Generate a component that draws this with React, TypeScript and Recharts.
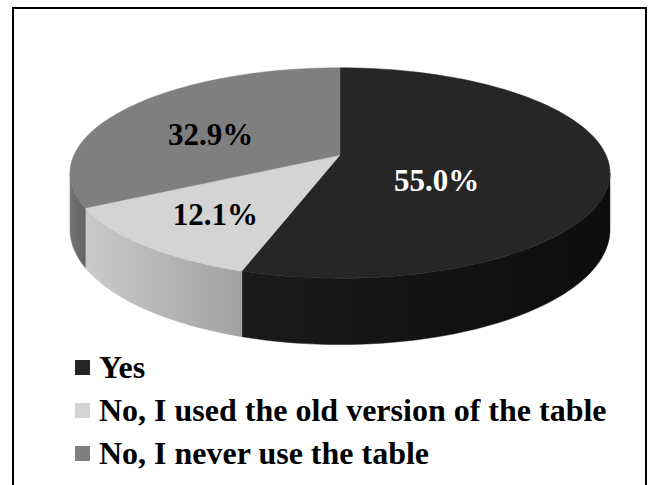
/* 3D-looking pie: answers to "Did you use the table?" */
import { PieChart, Pie, Cell, Legend } from 'recharts';

const answers = ['Yes', 'No, I used the old version of the table', 'No, I never use the table'];
const shares = [55.0, 12.1, 32.9];
const topColors = ['#262626', '#d4d4d4', '#7f7f7f'];
const wallColors = [['#1a1a1a', '#0d0d0d'], ['#cacaca', '#a2a2a2'], ['#747474', '#636363']];

const data = answers.map((name, i) => ({ name, value: shares[i], idx: i }));

// projection of the tilted disc
const SQUASH = 0.384;   // vertical / horizontal radius
const PERSP = 0.171;    // front bigger than back
const DEPTH = 55;       // thickness of the pie
const FONT = '"Liberation Serif", "Times New Roman", serif';

function proj(theta: number, cx: number, cy: number, R: number, r = 1) {
  const t = (theta * Math.PI) / 180;
  const u = r * Math.sin(t);
  const v = r * Math.cos(t);
  const s = 1 / (1 + PERSP * v);
  return { x: cx + R * u * s, y: cy - R * SQUASH * v * s, s };
}

function rimPoints(t1: number, t2: number, cx: number, cy: number, R: number) {
  const n = Math.max(2, Math.ceil(Math.abs(t2 - t1) / 2));
  const pts = [];
  for (let i = 0; i <= n; i++) pts.push(proj(t1 + ((t2 - t1) * i) / n, cx, cy, R));
  return pts;
}

function topFace(p: any) {
  const t1 = 90 - p.startAngle;
  const t2 = 90 - p.endAngle;
  return [{ x: p.cx, y: p.cy }, ...rimPoints(t1, t2, p.cx, p.cy, p.outerRadius)];
}

const toPath = (pts: { x: number; y: number }[]) =>
  'M' + pts.map((q) => `${q.x.toFixed(2)},${q.y.toFixed(2)}`).join('L') + 'Z';

function idxOf(p: any) {
  return p.payload?.idx ?? p.idx ?? p.index ?? 0;
}

function WallShape(p: any) {
  const edge = (Math.acos(-PERSP) * 180) / Math.PI;
  const a = Math.min(90 - p.startAngle, 90 - p.endAngle);
  const b = Math.max(90 - p.startAngle, 90 - p.endAngle);
  const lo = Math.max(a, edge);
  const hi = Math.min(b, 360 - edge);
  if (hi <= lo) return <g />;
  const top = rimPoints(lo, hi, p.cx, p.cy, p.outerRadius);
  const bottom = top.map((q) => ({ x: q.x, y: q.y + DEPTH * q.s })).reverse();
  const i = idxOf(p);
  const id = `wall-grad-${i}`;
  return (
    <g>
      <defs>
        <linearGradient id={id} x1="0" y1="0" x2="1" y2="0">
          <stop offset="0%" stopColor={wallColors[i][0]} />
          <stop offset="100%" stopColor={wallColors[i][1]} />
        </linearGradient>
      </defs>
      <path d={toPath([...top, ...bottom])} fill={`url(#${id})`} stroke={`url(#${id})`} strokeWidth={0.5} />
    </g>
  );
}

function TopShape(p: any) {
  return <path d={toPath(topFace(p))} fill={p.fill} stroke={p.fill} strokeWidth={0.5} />;
}

function PctLabel(p: any) {
  // area centroid of the projected top face
  const pts = topFace(p);
  let A = 0, gx = 0, gy = 0;
  for (let k = 0; k < pts.length; k++) {
    const q0 = pts[k], q1 = pts[(k + 1) % pts.length];
    const c = q0.x * q1.y - q1.x * q0.y;
    A += c; gx += (q0.x + q1.x) * c; gy += (q0.y + q1.y) * c;
  }
  A /= 2;
  const x = gx / (6 * A);
  const y = gy / (6 * A);
  const i = idxOf(p);
  return (
    <text x={x} y={y} textAnchor="middle" dominantBaseline="central"
      fontFamily={FONT} fontWeight={700} fontSize={31} fill={i === 0 ? '#fff' : '#000'}>
      {`${Number(p.value).toFixed(1)}%`}
    </text>
  );
}

function LegendBox() {
  return (
    <div style={{ fontFamily: FONT, fontWeight: 700, fontSize: 32, color: '#000' }}>
      {answers.map((name, i) => (
        <div key={name} style={{ display: 'flex', alignItems: 'center', height: 43, whiteSpace: 'nowrap' }}>
          <span style={{ display: 'inline-block', width: 15, height: 15, background: topColors[i], marginRight: 9 }} />
          <span>{name}</span>
        </div>
      ))}
    </div>
  );
}

export default function App() {
  return (
    <div style={{ position: 'absolute', left: 0, top: 0, width: 649, height: 485, overflow: 'hidden', background: '#fff' }}>
      <div style={{
        position: 'absolute', left: 12, top: 7, width: 635, height: 490,
        border: '2px solid #000', borderBottom: 'none', boxSizing: 'border-box',
      }} />
      <PieChart width={649} height={485} margin={{ top: 0, right: 0, bottom: 0, left: 0 }}>
        <Pie data={data} dataKey="value" nameKey="name" cx={340} cy={155} outerRadius={266}
          startAngle={90} endAngle={-270} stroke="none" legendType="none"
          shape={WallShape} isAnimationActive={false}>
          {data.map((d, i) => <Cell key={d.name} fill={topColors[i]} />)}
        </Pie>
        <Pie data={data} dataKey="value" nameKey="name" cx={340} cy={155} outerRadius={266}
          startAngle={90} endAngle={-270} stroke="none"
          shape={TopShape} label={PctLabel} labelLine={false} isAnimationActive={false}>
          {data.map((d, i) => <Cell key={d.name} fill={topColors[i]} />)}
        </Pie>
        <Legend content={<LegendBox />} layout="vertical"
          wrapperStyle={{ position: 'absolute', left: 75, top: 346, width: 570 }} />
      </PieChart>
    </div>
  );
}
